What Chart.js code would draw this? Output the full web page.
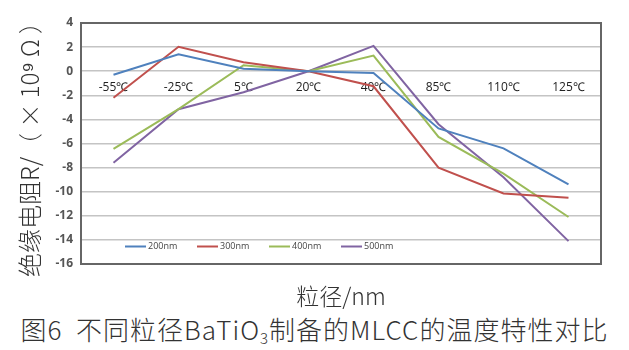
<!DOCTYPE html>
<html>
<head>
<meta charset="utf-8">
<script src="https://cdn.jsdelivr.net/npm/chart.js@4/dist/chart.umd.min.js"></script>
<style>
  body { margin: 0; background: #fff; }
  #wrap { width: 629px; height: 310px; position: relative; }
  #caption {
    width: 629px; height: 40px; text-align: center;
    font-family: "Noto Sans CJK SC", "Noto Sans", sans-serif;
    font-size: 26px; line-height: 38px; color: #333; letter-spacing: 1px;
    font-weight: 300;
  }
  #caption sub { font-size: 15px; vertical-align: -4px; line-height: 0; }
</style>
</head>
<body>
<div id="wrap"><canvas id="c"></canvas></div>
<div id="caption">图6&nbsp; 不同粒径BaTiO<sub>3</sub>制备的MLCC的温度特性对比</div>
<script>
// 温度点
const categories = ['-55℃', '-25℃', '5℃', '20℃', '40℃', '85℃', '110℃', '125℃'];

// 绝缘电阻 (×10^9 Ω)
const r200 = [-0.3, 1.4, 0.2, 0.0, -0.15, -4.75, -6.4, -9.4];
const r300 = [-2.2, 2.03, 0.75, 0.0, -1.25, -8.0, -10.15, -10.5];
const r400 = [-6.45, -3.15, 0.5, 0.0, 1.3, -5.45, -8.5, -12.1];
const r500 = [-7.6, -3.15, -1.75, 0.0, 2.1, -4.4, -8.8, -14.1];

const seriesNames = ['200nm', '300nm', '400nm', '500nm'];
const seriesColors = ['#4f81bd', '#c0504d', '#9bbb59', '#8064a2'];

const yMin = -16, yMax = 4, yStep = 2;

// 图内图例 + 外框
const boxAndLegend = {
  id: 'boxAndLegend',
  afterDatasetsDraw(chart) {
    const ctx = chart.ctx;
    const a = chart.chartArea;
    ctx.save();
    ctx.strokeStyle = '#666';
    ctx.lineWidth = 2;
    ctx.strokeRect(a.left, a.top, a.right - a.left, a.bottom - a.top);

    let x = a.left + 44;
    const y = a.bottom - 17.5;
    ctx.font = '9px "Open Sans", sans-serif';
    ctx.textBaseline = 'middle';
    chart.data.datasets.forEach(ds => {
      ctx.strokeStyle = ds.borderColor;
      ctx.lineWidth = 2;
      ctx.beginPath();
      ctx.moveTo(x, y);
      ctx.lineTo(x + 21, y);
      ctx.stroke();
      ctx.fillStyle = '#444';
      ctx.fillText(ds.label, x + 23, y);
      x += 72;
    });
    ctx.restore();
  }
};

const datasets = [r200, r300, r400, r500].map((d, i) => ({
  label: seriesNames[i],
  data: d,
  borderColor: seriesColors[i],
  backgroundColor: seriesColors[i],
  borderWidth: 2,
  pointRadius: 0,
  tension: 0
}));

new Chart(document.getElementById('c'), {
  type: 'line',
  data: { labels: categories, datasets: datasets },
  options: {
    responsive: true,
    maintainAspectRatio: false,
    animation: false,
    layout: { padding: { left: 0, right: 28, top: 23, bottom: 0 } },
    plugins: {
      legend: { display: false },
      tooltip: { enabled: false }
    },
    scales: {
      x: {
        type: 'category',
        offset: true,
        grid: { display: false, drawTicks: false },
        border: { display: false },
        ticks: { display: false },
        title: {
          display: true,
          text: '粒径/nm',
          color: '#333',
          font: { family: '"Noto Sans CJK SC", sans-serif', size: 23, weight: 300 },
          padding: { top: 11, bottom: 0 }
        },
        afterFit(scale) { scale.height = 46; }
      },
      xLabels: {
        type: 'category',
        labels: categories,
        offset: true,
        position: { y: 0 },
        grid: { display: false, drawTicks: false },
        border: { display: false },
        ticks: {
          padding: 9,
          color: '#222',
          font: { family: '"Open Sans", sans-serif', size: 12 }
        }
      },
      y: {
        min: yMin,
        max: yMax,
        ticks: {
          stepSize: yStep,
          color: '#555',
          padding: 8,
          font: { family: '"Open Sans", sans-serif', size: 12, weight: 'bold' }
        },
        grid: { color: '#c4c4c4', lineWidth: 1.5, drawTicks: false },
        border: { display: false },
        title: {
          display: true,
          text: '绝缘电阻R/（ × 10⁹ Ω ）',
          color: '#333',
          font: { family: '"Noto Sans CJK SC", sans-serif', size: 24, weight: 300 },
          padding: { top: 15, bottom: 0 }
        },
        afterFit(scale) { scale.width = 81; }
      }
    }
  },
  plugins: [boxAndLegend]
});
</script>
</body>
</html>
